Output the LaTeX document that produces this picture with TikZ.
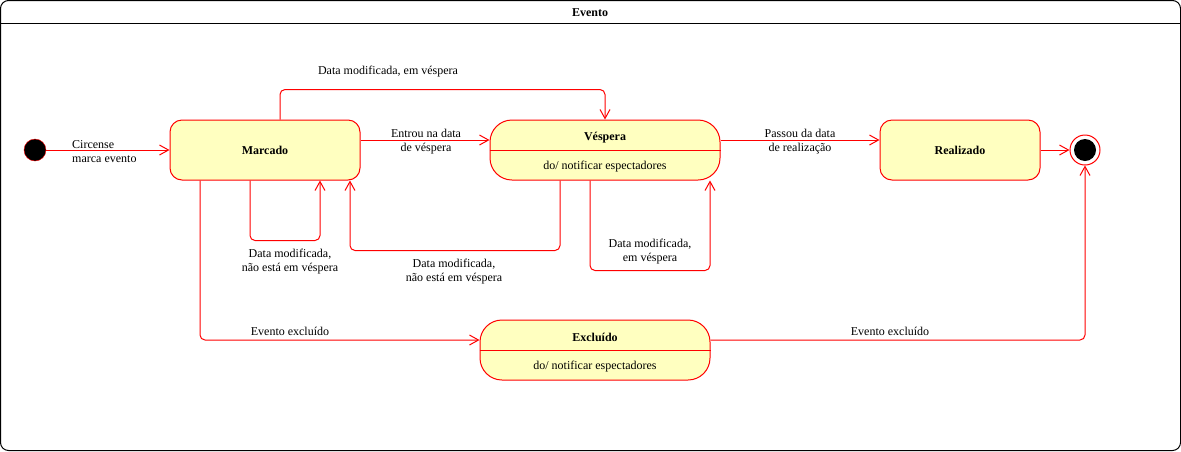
\documentclass[tikz,border=0pt]{standalone}
\usepackage{fontspec}
\setmainfont{Liberation Serif}
\usetikzlibrary{arrows.meta}
\definecolor{stfill}{HTML}{FFFFC0}
\definecolor{stred}{HTML}{FF0000}
\begin{document}
\begin{tikzpicture}[x=1pt,y=-1pt,
  font=\fontsize{12}{14}\selectfont,
  state/.style={draw=stred,fill=stfill,line width=1pt,rounded corners=12pt,
    minimum height=60pt,inner sep=0pt,font=\fontsize{12}{14}\selectfont\bfseries},
  activity/.style={state,rounded corners=22pt,minimum width=230pt},
  trans/.style={draw=stred,line width=1pt,rounded corners=5pt,
    -{Straight Barb[length=9pt,width=10pt]}},
  lbl/.style={align=center,inner sep=0pt}]
  \useasboundingbox (0,0) rectangle (1181,451);
  % Frame
  \draw[line width=1pt,rounded corners=8pt] (0.5,0.5) rectangle (1180.5,450.5);
  \draw[line width=1pt] (0.5,23) -- (1180.5,23);
  \node[font=\fontsize{12}{14}\selectfont\bfseries] (title) at (590,12.5) {Evento};
  % States
  \node[circle,draw=stred,fill=black,minimum size=22pt,inner sep=0pt] (init) at (35,150) {};
  \node[state,minimum width=190pt] (marcado) at (265,150) {Marcado};
  \node[activity] (vespera) at (605,150) {};
  \node[font=\fontsize{12}{14}\selectfont\bfseries] (vesptit) at (605,137.5) {Véspera};
  \node (vespdo) at (605,166.5) {do/ notificar espectadores};
  \draw[stred,line width=1pt] (vespera.west) -- (vespera.east);
  \node[state,minimum width=160pt] (realizado) at (960,150) {Realizado};
  \node[circle,draw=stred,fill=white,line width=1pt,minimum size=30pt,inner sep=0pt,
    path picture={\fill[black] (path picture bounding box.center) circle (11pt);}]
    (final) at (1085,150) {};
  \node[activity] (excluido) at (595,350) {};
  \node[font=\fontsize{12}{14}\selectfont\bfseries] (exctit) at (595,337.5) {Excluído};
  \node (excdo) at (595,366.5) {do/ notificar espectadores};
  \draw[stred,line width=1pt] (excluido.west) -- (excluido.east);
  % Transitions
  \draw[trans] (init) -- (marcado);
  \node[lbl,align=left,anchor=west] (l1) at (72,151.5) {Circense\\marca evento};
  \draw[trans] ([yshift=10pt]marcado.east) -- ([yshift=10pt]vespera.west);
  \node[lbl] (l2) at (426,141.5) {Entrou na data\\de véspera};
  \draw[trans] ([xshift=15pt]marcado.north) -- ++(0,-30) -| (vespera.north);
  \node[lbl] (l3) at (388,71.5) {Data modificada, em véspera};
  \draw[trans] ([xshift=-15pt]marcado.south) -- ++(0,60) -| ([xshift=55pt]marcado.south);
  \node[lbl] (l4) at (290,261.5) {Data modificada,\\não está em véspera};
  \draw[trans] ([xshift=-45pt]vespera.south) -- ++(0,70) -| ([xshift=85pt]marcado.south);
  \node[lbl] (l5) at (454,271.5) {Data modificada,\\não está em véspera};
  \draw[trans] ([xshift=-15pt]vespera.south) -- ++(0,90) -| ([xshift=105pt]vespera.south);
  \node[lbl] (l6) at (650,251.5) {Data modificada,\\em véspera};
  \draw[trans] ([yshift=10pt]vespera.east) -- ([yshift=10pt]realizado.west);
  \node[lbl] (l7) at (800,141.5) {Passou da data\\de realização};
  \draw[trans] (realizado) -- (final);
  \draw[trans] ([xshift=-65pt]marcado.south) |- ([yshift=10pt]excluido.west);
  \node[lbl] (l8) at (290,331.5) {Evento excluído};
  \draw[trans] ([yshift=10pt]excluido.east) -| (final.south);
  \node[lbl] (l9) at (890,331.5) {Evento excluído};
\end{tikzpicture}
\end{document}
